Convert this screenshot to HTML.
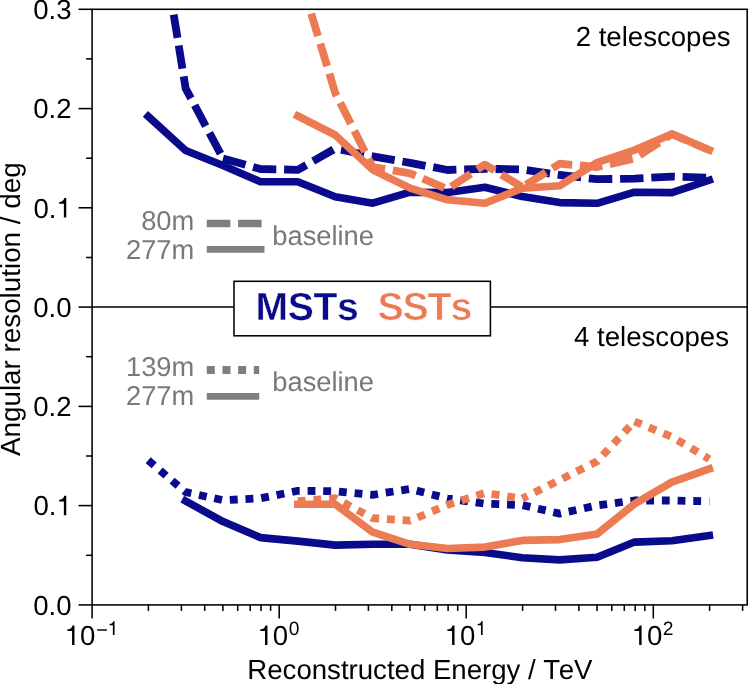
<!DOCTYPE html>
<html><head><meta charset="utf-8"><title>Angular resolution</title>
<style>
html,body{margin:0;padding:0;background:#fff;}
body{width:748px;height:684px;overflow:hidden;}
svg{display:block;will-change:transform;opacity:0.9999;}
text{font-family:"Liberation Sans",sans-serif;font-kerning:none;text-rendering:geometricPrecision;}
.t{font-size:27.6px;fill:#000;}
.g{font-size:27.3px;fill:#797979;}
.sup{font-size:19.25px;fill:#000;}
.b{font-size:38.7px;font-weight:bold;}
</style></head><body>
<svg width="748" height="684" viewBox="0 0 748 684">
<rect width="748" height="684" fill="#fff"/>
<defs>
<clipPath id="ct"><rect x="92.1" y="9.3" width="655.1" height="297.7"/></clipPath>
<clipPath id="cb"><rect x="92.1" y="307.0" width="655.1" height="297.9"/></clipPath>
</defs>

<g clip-path="url(#ct)" fill="none" stroke-linejoin="round">
<path d="M148.2 116.4 L185.6 150.5 L223.0 165.6 L260.4 181.7 L297.8 181.7 L335.2 196.8 L372.7 203.2 L410.1 192.2 L447.5 192.6 L484.9 187.2 L522.3 196.6 L559.7 202.6 L597.1 203.3 L634.5 192.2 L671.9 192.6 L709.3 180.2" stroke="#0a0a8c" stroke-width="7.6" stroke-linecap="square"/>
<path d="M173.7 14.7 L177.5 37.8 M178.7 45.5 L182.4 68.7 M183.7 76.4 L185.6 88.3 L191.0 98.4 M194.7 105.3 L205.7 126.1 M209.4 132.9 L220.5 153.7 M223.0 158.5 L245.6 164.8 M253.1 166.9 L260.4 169.0 L276.3 169.3 M284.1 169.5 L297.8 169.8 L306.3 165.0 M313.1 161.1 L333.5 149.5 M341.0 149.7 L364.0 154.5 M371.6 156.1 L372.7 156.3 L394.7 160.1 M402.4 161.5 L410.1 162.8 L425.5 165.8 M433.2 167.2 L447.5 170.0 L456.4 169.7 M464.2 169.5 L484.9 168.8 L487.7 168.9 M495.5 169.0 L519.0 169.4 M526.7 170.2 L550.0 173.6 M557.7 174.7 L559.7 175.0 L581.1 177.4 M588.8 178.3 L597.1 179.2 L612.3 179.0 M620.1 178.8 L634.5 178.6 L643.5 178.1 M651.3 177.7 L671.9 176.6 L674.8 176.7 M682.6 176.9 L706.1 177.7" stroke="#0a0a8c" stroke-width="7.8"/>
<path d="M297.8 116.0 L335.2 135.0 L372.7 169.8 L410.1 188.1 L447.5 199.8 L484.9 203.2 L522.3 188.2 L559.7 185.8 L597.1 162.5 L634.5 150.1 L671.9 134.1 L709.3 150.1" stroke="#ec7a53" stroke-width="7.6" stroke-linecap="square"/>
<path d="M311.2 13.7 L318.0 36.2 M320.3 43.7 L327.1 66.1 M329.4 73.6 L335.2 93.0 L336.7 95.9 M340.2 102.8 L350.8 123.8 M354.3 130.8 L364.9 151.8 M368.4 158.7 L372.7 167.1 L385.1 169.2 M392.8 170.4 L410.1 173.3 L415.6 175.6 M422.8 178.7 L444.4 187.9 M451.2 186.8 L470.8 173.8 M477.4 169.6 L484.9 164.6 L494.7 170.5 M501.4 174.6 L521.5 186.7 M526.0 184.9 L545.9 172.4 M552.5 168.2 L559.7 163.7 L572.2 164.8 M579.9 165.5 L597.1 167.0 L602.2 165.8 M609.8 164.1 L632.8 158.9 M639.5 155.2 L659.2 142.4 M665.8 138.1 L671.9 134.1 L686.8 140.4 M693.9 143.5 L709.3 150.1" stroke="#ec7a53" stroke-width="7.8"/>
</g>
<g clip-path="url(#cb)" fill="none" stroke-linejoin="round">
<path d="M185.6 501.0 L223.0 521.6 L260.4 537.6 L297.8 541.1 L335.2 545.1 L372.7 544.3 L410.1 544.3 L447.5 549.9 L484.9 552.4 L522.3 557.8 L559.7 559.9 L597.1 557.2 L634.5 542.1 L671.9 540.8 L709.3 535.5" stroke="#0a0a8c" stroke-width="7.6" stroke-linecap="square"/>
<path d="M148.2 460.3 L154.2 465.4 M160.2 470.5 L166.1 475.6 M172.1 480.6 L178.1 485.7 M184.1 490.8 L185.6 492.1 L191.3 493.3 M199.0 495.0 L206.7 496.7 M214.3 498.3 L222.0 500.0 M229.8 499.9 L237.7 499.5 M245.5 499.1 L253.4 498.7 M261.2 498.1 L268.9 496.6 M276.6 495.1 L284.3 493.5 M292.0 492.0 L297.8 490.8 L299.7 490.8 M307.6 490.9 L315.4 491.0 M323.2 491.1 L331.1 491.2 M338.9 491.6 L346.7 492.4 M354.6 493.1 L362.4 493.8 M370.2 494.6 L372.7 494.8 L378.0 494.0 M385.7 492.7 L393.5 491.5 M401.2 490.3 L409.0 489.1 M416.6 490.6 L424.2 492.5 M431.8 494.5 L439.4 496.4 M447.0 498.4 L447.5 498.5 L452.4 499.2 M460.2 500.3 L468.0 501.3 M475.7 502.4 L483.5 503.5 M491.3 503.9 L499.2 504.2 M507.0 504.5 L514.9 504.8 M522.7 505.2 L530.4 506.9 M538.0 508.7 L545.7 510.4 M553.3 512.2 L559.7 513.6 L561.0 513.3 M568.7 511.6 L576.3 510.0 M584.0 508.3 L591.7 506.6 M599.4 505.1 L607.1 504.1 M614.9 503.1 L622.7 502.0 M630.5 501.0 L634.5 500.5 L638.3 500.5 M646.2 500.5 L654.0 500.5 M661.9 500.5 L669.7 500.5 M677.6 500.6 L685.4 500.8 M693.3 501.0 L701.1 501.1 M709.0 501.3 L709.3 501.3" stroke="#0a0a8c" stroke-width="7.8"/>
<path d="M297.8 504.2 L335.2 504.2 L372.7 532.2 L410.1 544.3 L447.5 548.5 L484.9 547.1 L522.3 540.4 L559.7 539.6 L597.1 534.0 L634.5 503.9 L671.9 482.1 L709.3 468.9" stroke="#ec7a53" stroke-width="7.6" stroke-linecap="square"/>
<path d="M297.8 501.2 L305.7 500.6 M313.5 499.9 L321.3 499.3 M329.1 498.7 L335.2 498.2 L336.8 499.0 M343.7 502.7 L350.6 506.4 M357.6 510.1 L364.5 513.8 M371.4 517.4 L372.7 518.1 L379.1 518.5 M386.9 519.1 L394.8 519.6 M402.6 520.2 L410.1 520.7 L410.4 520.6 M417.6 517.5 L424.9 514.5 M432.1 511.4 L439.3 508.3 M446.5 505.3 L447.5 504.9 L454.0 502.8 M461.5 500.4 L469.0 498.1 M476.4 495.7 L483.9 493.3 M491.6 494.0 L499.4 495.2 M507.2 496.3 L514.9 497.5 M522.3 498.6 L527.5 496.0 M534.5 492.5 L541.5 489.0 M548.5 485.6 L555.6 482.1 M562.6 478.6 L569.6 475.0 M576.6 471.5 L583.7 468.0 M590.7 464.5 L597.1 461.3 L597.6 460.8 M602.9 455.1 L608.3 449.4 M613.7 443.7 L619.1 437.9 M624.4 432.2 L629.8 426.5 M634.5 421.5 L641.6 424.4 M648.9 427.4 L656.1 430.3 M663.4 433.3 L670.7 436.3 M677.5 440.1 L684.2 444.2 M691.0 448.2 L697.7 452.2 M704.4 456.2 L709.3 459.2" stroke="#ec7a53" stroke-width="7.8"/>
</g>
<g fill="none" stroke="#7f7f7f">
<path d="M206.8 223.5 H261.8" stroke-width="7.5" stroke-dasharray="23.5 7.8"/>
<path d="M206.8 249.4 H264.5" stroke-width="6.9"/>
<path d="M206.8 370.0 H259.2" stroke-width="8" stroke-dasharray="8 7.67"/>
<path d="M206.8 396.3 H259.2" stroke-width="6.8"/>
</g>
<text class="g" x="194.3" y="230.4" text-anchor="end">80m</text>
<text class="g" x="194.3" y="259.2" text-anchor="end">277m</text>
<text class="g" x="272.3" y="245.1">baseline</text>
<text class="g" x="194.3" y="376.4" text-anchor="end">139m</text>
<text class="g" x="194.3" y="405.2" text-anchor="end">277m</text>
<text class="g" x="272.3" y="391.1">baseline</text>
<g stroke="#000" stroke-width="1.55" fill="none">
<rect x="92.1" y="9.3" width="655.1" height="595.6"/>
<path d="M92.1 307.0 H747.2"/>
<path d="M78.5 9.3 H92.1"/>
<path d="M78.5 108.6 H92.1"/>
<path d="M78.5 207.8 H92.1"/>
<path d="M78.5 307.1 H92.1"/>
<path d="M78.5 406.4 H92.1"/>
<path d="M78.5 505.6 H92.1"/>
<path d="M78.5 604.9 H92.1"/>
<path d="M86.1 58.9 H92.1"/>
<path d="M86.1 158.2 H92.1"/>
<path d="M86.1 257.5 H92.1"/>
<path d="M86.1 356.7 H92.1"/>
<path d="M86.1 456.0 H92.1"/>
<path d="M86.1 555.3 H92.1"/>
<path d="M92.1 604.9 V618.5"/>
<path d="M148.4 604.9 V610.9"/>
<path d="M181.4 604.9 V610.9"/>
<path d="M204.7 604.9 V610.9"/>
<path d="M222.9 604.9 V610.9"/>
<path d="M237.7 604.9 V610.9"/>
<path d="M250.2 604.9 V610.9"/>
<path d="M261.0 604.9 V610.9"/>
<path d="M270.6 604.9 V610.9"/>
<path d="M279.2 604.9 V618.5"/>
<path d="M335.5 604.9 V610.9"/>
<path d="M368.4 604.9 V610.9"/>
<path d="M391.8 604.9 V610.9"/>
<path d="M409.9 604.9 V610.9"/>
<path d="M424.7 604.9 V610.9"/>
<path d="M437.3 604.9 V610.9"/>
<path d="M448.1 604.9 V610.9"/>
<path d="M457.7 604.9 V610.9"/>
<path d="M466.2 604.9 V618.5"/>
<path d="M522.6 604.9 V610.9"/>
<path d="M555.5 604.9 V610.9"/>
<path d="M578.9 604.9 V610.9"/>
<path d="M597.0 604.9 V610.9"/>
<path d="M611.8 604.9 V610.9"/>
<path d="M624.3 604.9 V610.9"/>
<path d="M635.2 604.9 V610.9"/>
<path d="M644.8 604.9 V610.9"/>
<path d="M653.3 604.9 V618.5"/>
<path d="M709.6 604.9 V610.9"/>
<path d="M742.6 604.9 V610.9"/>
</g>
<text class="t" x="71.6" y="19.0" text-anchor="end">0.3</text>
<text class="t" x="71.6" y="118.3" text-anchor="end">0.2</text>
<text class="t" x="33.4" y="217.5">0.</text><path d="M359 0H271V505H101V568C188 568 269 601 288 709H359Z" fill="#000" transform="translate(56.40 217.53) scale(0.02750 -0.02750)"/>
<text class="t" x="71.6" y="316.8" text-anchor="end">0.0</text>
<text class="t" x="71.6" y="416.1" text-anchor="end">0.2</text>
<text class="t" x="33.4" y="515.3">0.</text><path d="M359 0H271V505H101V568C188 568 269 601 288 709H359Z" fill="#000" transform="translate(56.40 515.33) scale(0.02750 -0.02750)"/>
<text class="t" x="71.6" y="614.6" text-anchor="end">0.0</text>
<path d="M359 0H271V505H101V568C188 568 269 601 288 709H359Z" fill="#000" transform="translate(64.60 644.90) scale(0.02750 -0.02750)"/><text class="t" x="79.89" y="644.9">0</text>
<path d="M97.15 630.0 h9.74" stroke="#000" stroke-width="1.45" fill="none"/><path d="M359 0H271V505H101V568C188 568 269 601 288 709H359Z" fill="#000" transform="translate(107.64 634.90) scale(0.01925 -0.01925)"/>
<path d="M359 0H271V505H101V568C188 568 269 601 288 709H359Z" fill="#000" transform="translate(257.57 644.90) scale(0.02750 -0.02750)"/><text class="t" x="272.86" y="644.9">0</text>
<text class="sup" x="288.67" y="634.9">0</text>
<path d="M359 0H271V505H101V568C188 568 269 601 288 709H359Z" fill="#000" transform="translate(444.64 644.90) scale(0.02750 -0.02750)"/><text class="t" x="459.93" y="644.9">0</text>
<path d="M359 0H271V505H101V568C188 568 269 601 288 709H359Z" fill="#000" transform="translate(475.74 634.90) scale(0.01925 -0.01925)"/>
<path d="M359 0H271V505H101V568C188 568 269 601 288 709H359Z" fill="#000" transform="translate(631.71 644.90) scale(0.02750 -0.02750)"/><text class="t" x="647.00" y="644.9">0</text>
<text class="sup" x="662.81" y="634.9">2</text>
<text class="t" x="419.9" y="678.5" text-anchor="middle">Reconstructed Energy / T<tspan dx="-1.5">eV</tspan></text>
<text class="t" style="font-size:27.8px" transform="translate(20.0 309.2) rotate(-90)" text-anchor="middle">Angular resolution / deg</text>
<text class="t" x="730.6" y="46.1" text-anchor="end">2 telescopes</text>
<text class="t" x="729" y="346.0" text-anchor="end">4 telescopes</text>
<rect x="234.0" y="281.3" width="256.4" height="54.5" fill="#fff" stroke="#000" stroke-width="1.55"/>
<text class="b" x="255.6" y="320.4" style="font-size:39.1px" letter-spacing="-0.35" stroke="#fff" stroke-width="0.4" fill="#0a0a8c">MSTs</text>
<text class="b" x="377.6" y="320.4" style="font-size:39.3px" letter-spacing="-1.2" stroke="#fff" stroke-width="0.75" fill="#ec7a53">SSTs</text>
</svg></body></html>
